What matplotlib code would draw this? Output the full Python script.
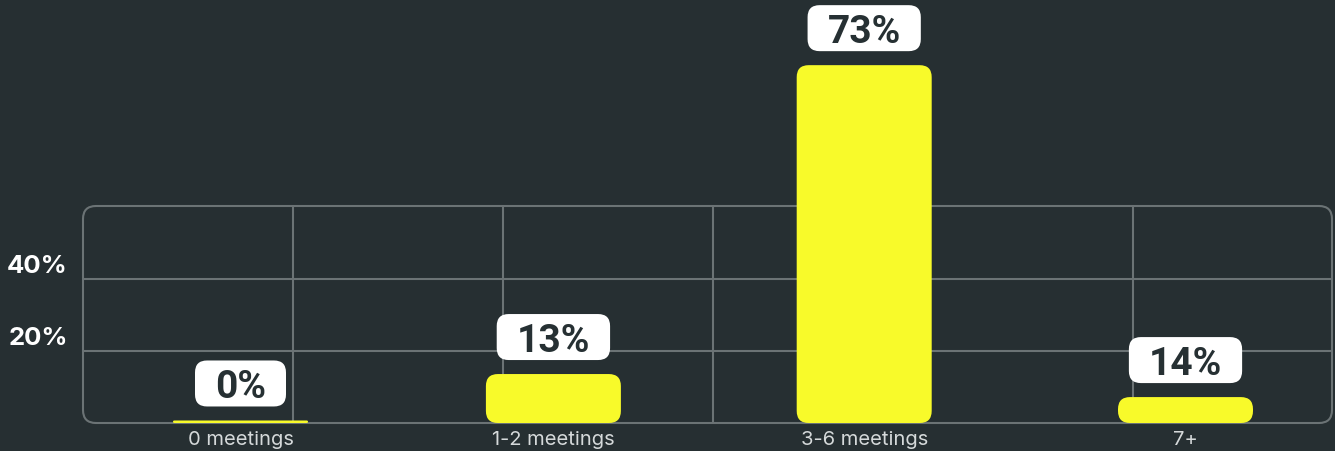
import matplotlib
matplotlib.use("Agg")
import matplotlib.pyplot as plt
from matplotlib.patches import FancyBboxPatch
from matplotlib.transforms import IdentityTransform, ScaledTranslation

# ---- data ----
categories = ["0 meetings", "1-2 meetings", "3-6 meetings", "7+"]
share_labels = [0, 13, 73, 14]            # printed values (%)
bar_heights = [0.7, 13.6, 99.4, 7.2]      # drawn bar heights in axis units
y_ticks = [20, 40]
y_tick_labels = ["20%", "40%"]

BG = "#262f32"
GRID = "#6b7375"
YELLOW = "#f8fa2a"
DARK = "#263033"

W, H = 1335, 452
fig = plt.figure(figsize=(W / 100, H / 100), dpi=100, facecolor=BG)
L, R, B, T = 83, 1332, 424, 207
ax = fig.add_axes([L / W, 1 - B / H, (R - L) / W, (B - T) / H])
ax.set_facecolor("none")
ax.set_xlim(0, (R - L) / 210)
ax.set_ylim(0, (B - T) / 3.6)
for s in ax.spines.values():
    s.set_visible(False)

ax.set_xticks([1, 2, 3, 4, 5], minor=True)
ax.set_yticks(y_ticks)
ax.set_yticklabels(y_tick_labels, fontsize=18.5, fontweight="bold",
                   color="white", fontfamily="Inter")
ax.grid(True, which="minor", axis="x", color=GRID, lw=1.5)
ax.grid(True, which="major", axis="y", color=GRID, lw=1.5)
ax.tick_params(axis="both", which="both", length=0)
ax.tick_params(axis="y", pad=11)
ax.tick_params(axis="x", pad=5)
off = ScaledTranslation(0, 16 / 100, fig.dpi_scale_trans)
for lab in ax.get_yticklabels():
    lab.set_transform(lab.get_transform() + off)

xs = [0.75, 2.24, 3.72, 5.25]
ax.set_xticks(xs)
ax.set_xticklabels(categories, fontsize=14.5, color="#d5d9da", fontfamily="Inter")

# outer rounded box
ax.add_artist(FancyBboxPatch((L, H - B), R - L, B - T,
                             boxstyle="round,pad=0,rounding_size=13",
                             transform=IdentityTransform(), fc="none",
                             ec=GRID, lw=1.5, zorder=1, clip_on=False))

# bars through library scales, then rounded
bw = 135 / 210
rects = ax.bar(xs, bar_heights, width=bw, color=YELLOW, zorder=3)
fig.canvas.draw()
for r in rects:
    r.set_visible(False)
    (x0, y0), (x1, y1) = ax.transData.transform([(r.get_x(), r.get_y()),
                                                 (r.get_x() + r.get_width(),
                                                  r.get_y() + r.get_height())])
    rad = min(12, (y1 - y0) / 2, (x1 - x0) / 2)
    ax.add_artist(FancyBboxPatch((x0, y0), x1 - x0, y1 - y0,
                                 boxstyle=f"round,pad=0,rounding_size={rad}",
                                 transform=IdentityTransform(), fc=YELLOW,
                                 ec="none", zorder=3, clip_on=False))

# value labels in white rounded boxes
renderer = fig.canvas.get_renderer()
for x, h, v in zip(xs, bar_heights, share_labels):
    t = ax.annotate(f"{v}%", (x, h), xytext=(0, 23), textcoords="offset pixels",
                    ha="center", va="baseline", fontsize=28, fontweight="bold",
                    color=DARK, fontfamily="Roboto", zorder=6,
                    annotation_clip=False)
    ext = t.get_window_extent(renderer)
    px, py = ax.transData.transform((x, h))
    bwid = ext.width + 40
    ax.add_artist(FancyBboxPatch((px - bwid / 2, py + 14), bwid, 46,
                                 boxstyle="round,pad=0,rounding_size=12",
                                 transform=IdentityTransform(), fc="white",
                                 ec="none", zorder=5, clip_on=False))

fig.savefig("out.png", dpi=100, facecolor=BG)
